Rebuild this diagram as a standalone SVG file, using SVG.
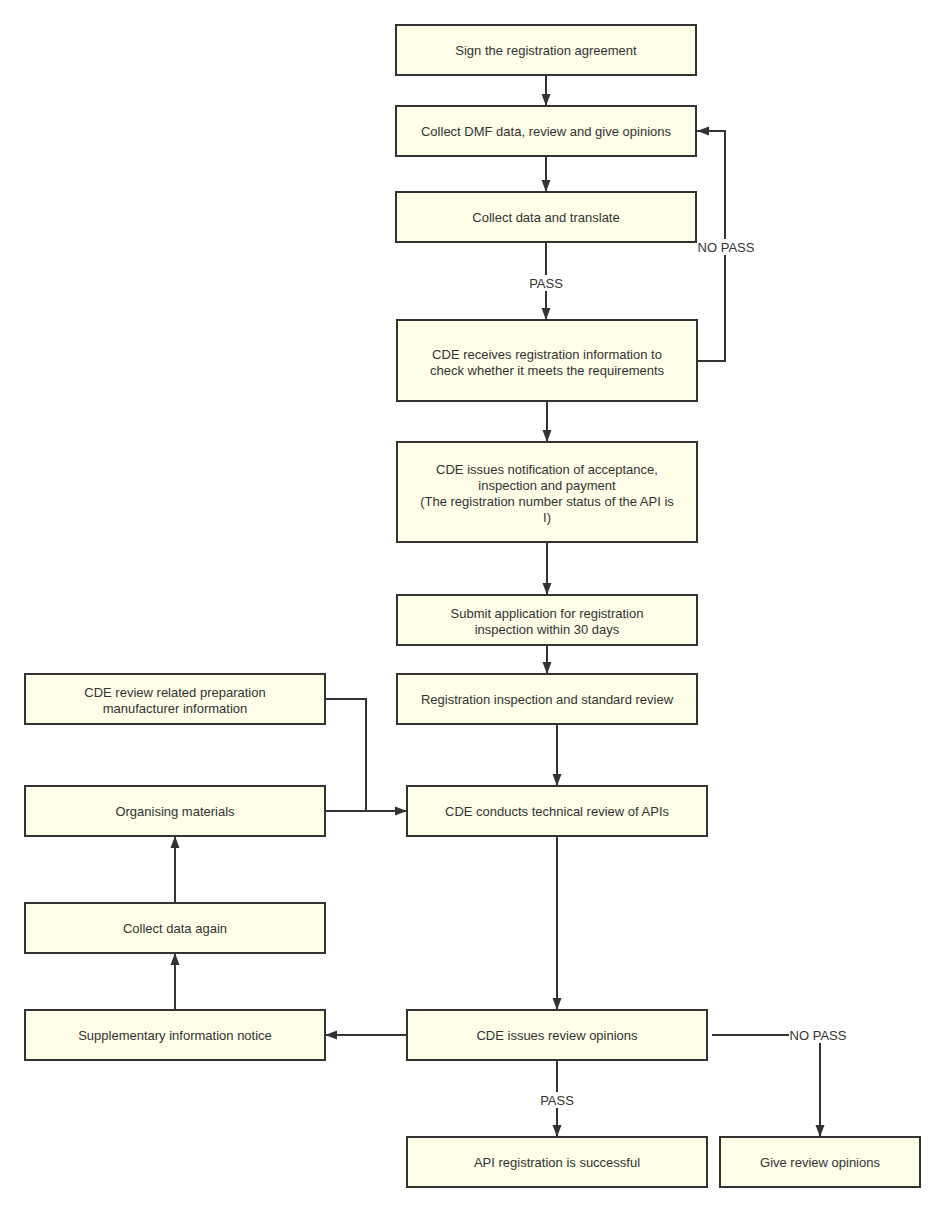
<svg xmlns="http://www.w3.org/2000/svg" width="945" height="1212" viewBox="0 0 945 1212">
<style>
.n rect{fill:#fefee9;stroke:#333;stroke-width:2}
.n text,.lbl{font-family:"Liberation Sans",Arial,sans-serif;font-size:13px;fill:#333;text-anchor:middle;dominant-baseline:central}
.c path{fill:none;stroke:#333;stroke-width:2}
.lbg{fill:#fff}
</style>
<defs>
<marker id="ah" viewBox="0 0 12 10" refX="12" refY="5" markerWidth="6" markerHeight="5" orient="auto" markerUnits="strokeWidth"><path d="M0,0.5 L12,5 L0,9.5 z" fill="#333"/></marker>
</defs>
<rect width="945" height="1212" fill="#fff"/>
<g class="c">
<path d="M546,75 V106" marker-end="url(#ah)"/>
<path d="M546,156 V192" marker-end="url(#ah)"/>
<path d="M546,242 V320" marker-end="url(#ah)"/>
<path d="M697,361 H725 V131 H697" marker-end="url(#ah)"/>
<path d="M547,401 V442" marker-end="url(#ah)"/>
<path d="M547,542 V595" marker-end="url(#ah)"/>
<path d="M547,645 V674" marker-end="url(#ah)"/>
<path d="M557,724 V786" marker-end="url(#ah)"/>
<path d="M325,699 H366 V811"/>
<path d="M325,811 H407" marker-end="url(#ah)"/>
<path d="M175,903 V836" marker-end="url(#ah)"/>
<path d="M175,1010 V953" marker-end="url(#ah)"/>
<path d="M407,1035 H325" marker-end="url(#ah)"/>
<path d="M557,836 V1010" marker-end="url(#ah)"/>
<path d="M557,1060 V1137" marker-end="url(#ah)"/>
<path d="M712,1035 H820 V1137" marker-end="url(#ah)"/>
<rect class="lbg" x="529" y="275" width="34" height="16"/>
<text class="lbl" x="546" y="283">PASS</text>
<rect class="lbg" x="697" y="239" width="58" height="16"/>
<text class="lbl" x="726" y="247">NO PASS</text>
<rect class="lbg" x="540" y="1092" width="34" height="16"/>
<text class="lbl" x="557" y="1100">PASS</text>
<rect class="lbg" x="789" y="1027" width="58" height="16"/>
<text class="lbl" x="818" y="1035">NO PASS</text>
</g>
<g id="n1" class="n"><rect x="396" y="25" width="300" height="50"/><text x="546" y="50">Sign the registration agreement</text></g>
<g id="n2" class="n"><rect x="396" y="106" width="300" height="50"/><text x="546" y="131">Collect DMF data, review and give opinions</text></g>
<g id="n3" class="n"><rect x="396" y="192" width="300" height="50"/><text x="546" y="217">Collect data and translate</text></g>
<g id="n4" class="n"><rect x="397" y="320" width="300" height="81"/><text x="547" y="354">CDE receives registration information to</text><text x="547" y="370">check whether it meets the requirements</text></g>
<g id="n5" class="n"><rect x="397" y="442" width="300" height="100"/><text x="547" y="469">CDE issues notification of acceptance,</text><text x="547" y="485">inspection and payment</text><text x="547" y="501">(The registration number status of the API is</text><text x="547" y="517">I)</text></g>
<g id="n6" class="n"><rect x="397" y="595" width="300" height="50"/><text x="547" y="613">Submit application for registration</text><text x="547" y="629">inspection within 30 days</text></g>
<g id="n7" class="n"><rect x="397" y="674" width="300" height="50"/><text x="547" y="699">Registration inspection and standard review</text></g>
<g id="n8" class="n"><rect x="407" y="786" width="300" height="50"/><text x="557" y="811">CDE conducts technical review of APIs</text></g>
<g id="l1" class="n"><rect x="25" y="674" width="300" height="50"/><text x="175" y="692">CDE review related preparation</text><text x="175" y="708">manufacturer information</text></g>
<g id="l2" class="n"><rect x="25" y="786" width="300" height="50"/><text x="175" y="811">Organising materials</text></g>
<g id="l3" class="n"><rect x="25" y="903" width="300" height="50"/><text x="175" y="928">Collect data again</text></g>
<g id="l4" class="n"><rect x="25" y="1010" width="300" height="50"/><text x="175" y="1035">Supplementary information notice</text></g>
<g id="n9" class="n"><rect x="407" y="1010" width="300" height="50"/><text x="557" y="1035">CDE issues review opinions</text></g>
<g id="n10" class="n"><rect x="407" y="1137" width="300" height="50"/><text x="557" y="1162">API registration is successful</text></g>
<g id="n11" class="n"><rect x="720" y="1137" width="200" height="50"/><text x="820" y="1162">Give review opinions</text></g>
</svg>
